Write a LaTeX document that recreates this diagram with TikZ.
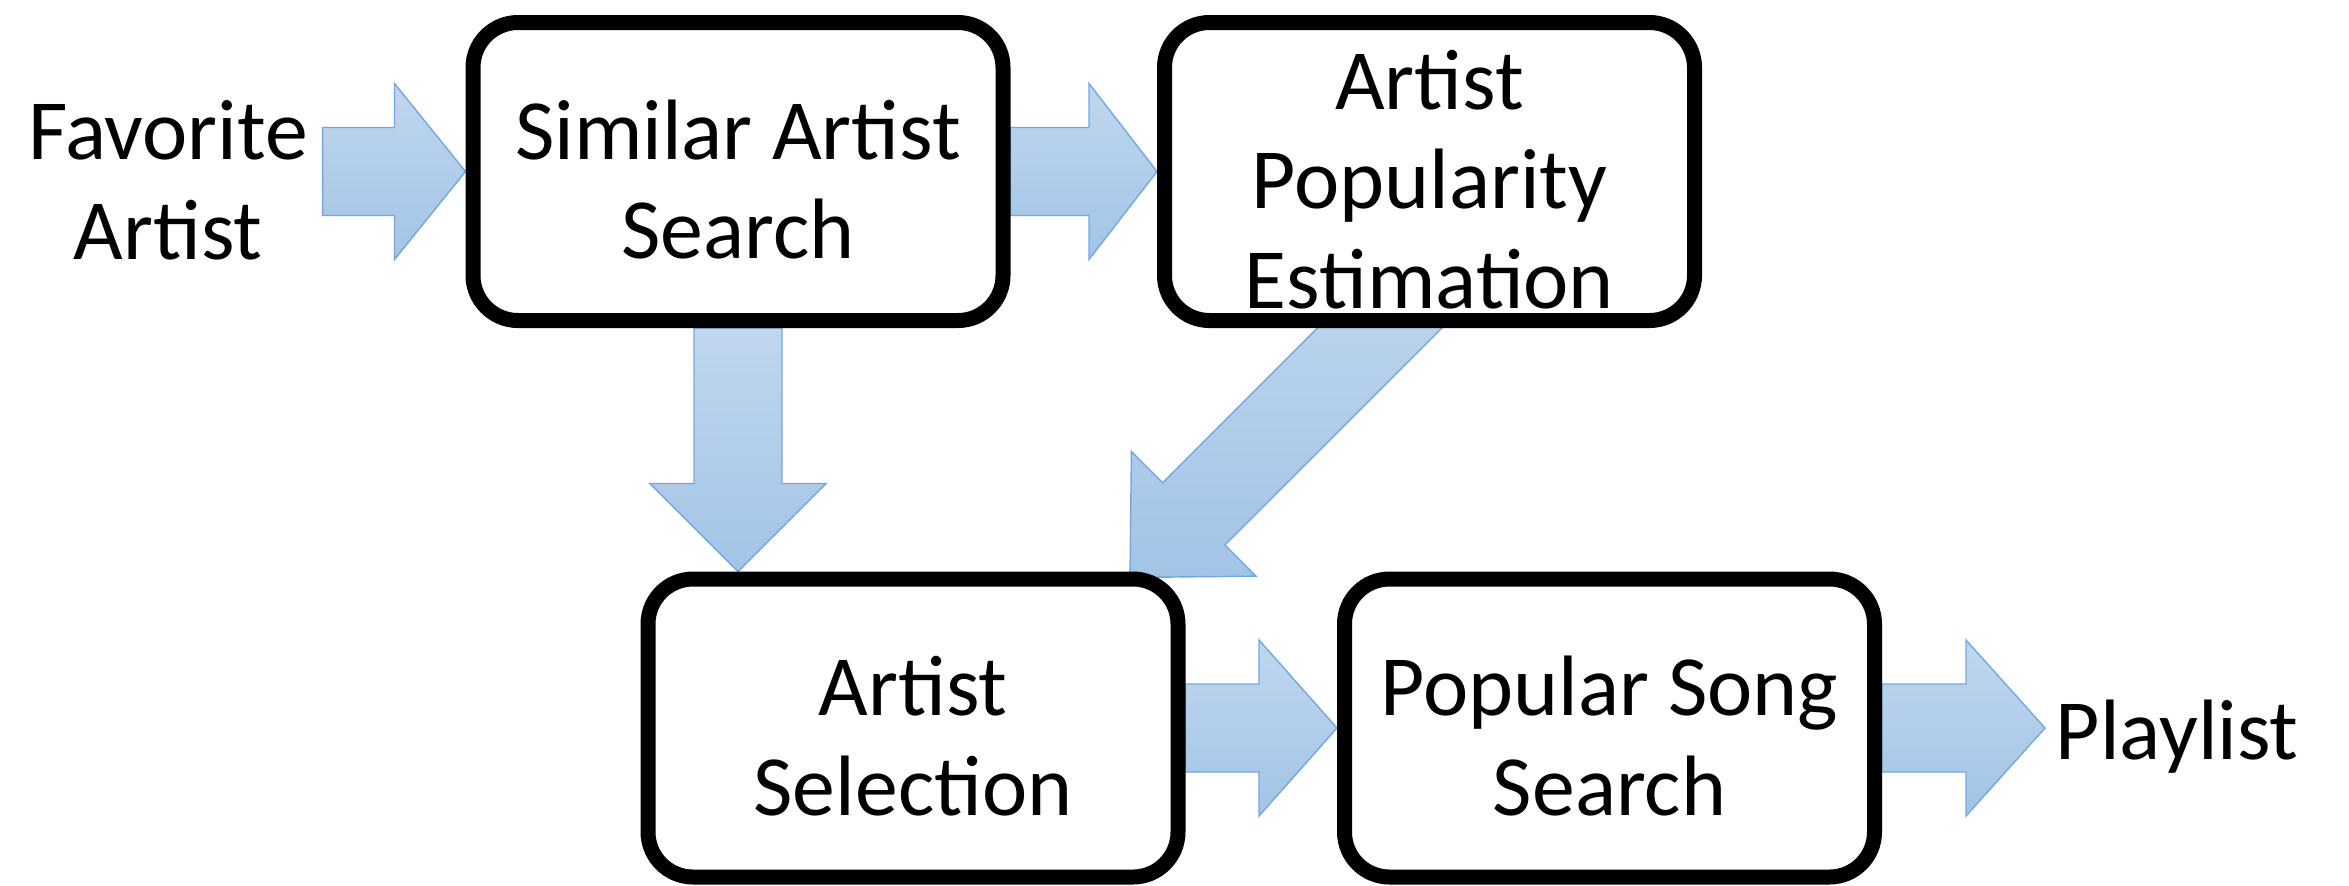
\documentclass[tikz,border=0pt]{standalone}
\usepackage{fontspec}
\setmainfont{Carlito}
\usetikzlibrary{calc,backgrounds}
\definecolor{arrowtop}{RGB}{192,215,238}
\definecolor{arrowbot}{RGB}{162,196,230}
\definecolor{arrowline}{RGB}{115,168,222}
\tikzset{
  box/.style={draw,line width=0.15cm,rounded corners=0.45cm,fill=white,
    minimum width=5.3cm,minimum height=2.98cm,inner sep=0pt},
  boxtext/.style={align=center,inner sep=0pt},
  fat/.style={draw=arrowline,line width=0.4pt,top color=arrowtop,bottom color=arrowbot},
}
% block arrow: tail, tip, head length
\newcommand\fatarrow[3]{%
  \coordinate (fa-h) at ($(#2)!#3!(#1)$);
  \draw[fat] ($(#1)!0.44cm!90:(#2)$) -- ($(fa-h)!0.44cm!90:(#2)$)
    -- ($(fa-h)!0.88cm!90:(#2)$) -- (#2) -- ($(fa-h)!0.88cm!-90:(#2)$)
    -- ($(fa-h)!0.44cm!-90:(#2)$) -- ($(#1)!0.44cm!-90:(#2)$) -- cycle;
}
\begin{document}
\begin{tikzpicture}[font=\fontsize{24.4}{28.4}\selectfont]
\useasboundingbox (0,0) rectangle (23.49,-8.85);
\node[box] (sim) at (7.38,-1.715) {};
\node[box] (pop) at (14.295,-1.715) {};
\node[box] (sel) at (9.13,-7.28) {};
\node[box] (song) at (16.095,-7.28) {};
\node[boxtext] (simt) at ($(sim)+(0,-0.08)$) {Similar Artist\\Search};
\node[boxtext] (popt) at ($(pop)+(0,-0.08)$) {Artist\\Popularity\\Estimation};
\node[boxtext] (selt) at ($(sel)+(0,-0.08)$) {Artist\\Selection};
\node[boxtext] (songt) at ($(song)+(0,-0.08)$) {Popular Song\\Search};
\node[align=center,inner sep=0.14cm] (fav) at (1.68,-1.80) {Favorite\\Artist};
\node[anchor=west,inner sep=0.1cm] (plist) at (20.45,-7.37) {Playlist};

\coordinate (ftail) at (fav.east |- sim.west);
\coordinate (dn) at (sim.south |- sel.north);
\coordinate (dtip) at ($(sel.north)+(2.17,-0.06)$);
\coordinate (dtail) at ($(dtip)+(3,3)$);
\coordinate (ptip) at (plist.west |- song.east);
\begin{pgfonlayer}{background}
\fatarrow{ftail}{sim.west}{0.71cm}
\fatarrow{sim.east}{pop.west}{0.68cm}
\fatarrow{sel.east}{song.west}{0.78cm}
\fatarrow{song.east}{ptip}{0.79cm}
\fatarrow{sim.south}{dn}{0.88cm}
\fatarrow{dtail}{dtip}{0.90cm}
\end{pgfonlayer}
\end{tikzpicture}
\end{document}
